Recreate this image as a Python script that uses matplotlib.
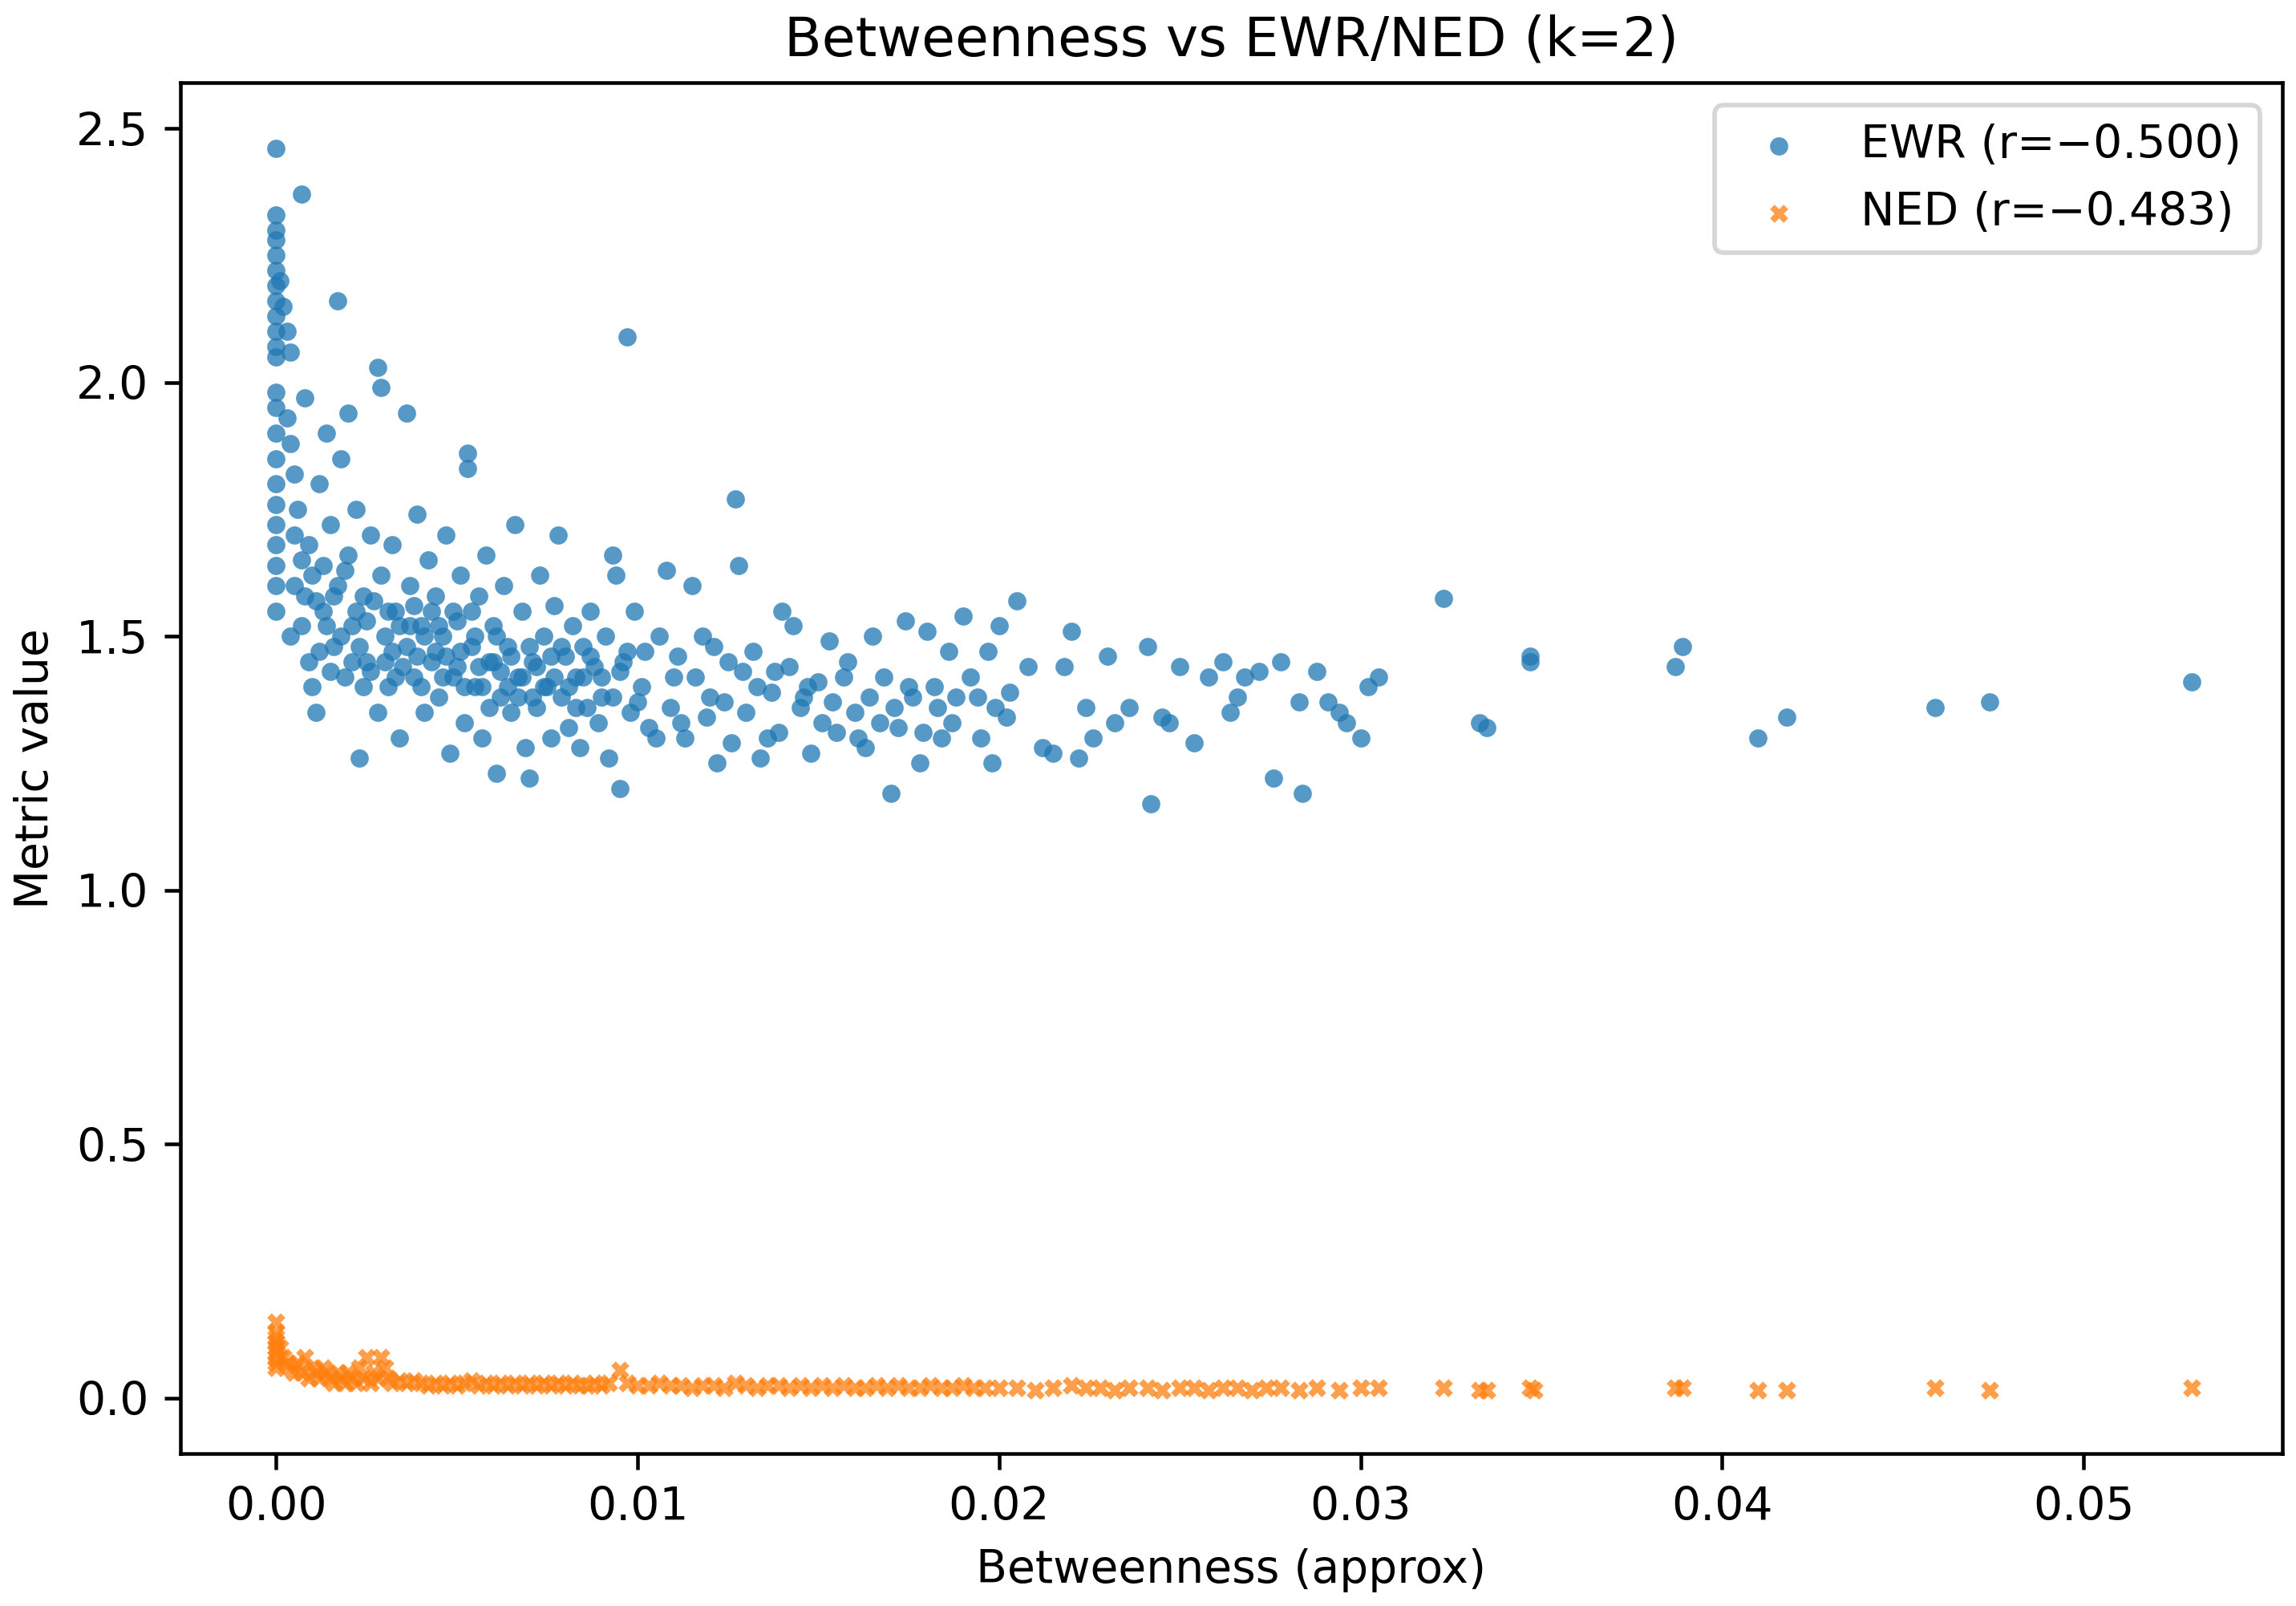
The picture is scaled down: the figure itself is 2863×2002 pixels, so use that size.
import matplotlib
matplotlib.use("Agg")
import matplotlib.pyplot as plt

# EWR points (betweenness, value)
ewr_points = [
    (0, 2.46), (0, 2.33), (0, 2.30), (0, 2.28), (0, 2.25), (0, 2.22), (0, 2.19), (0, 2.16), (0, 2.13),
    (0, 2.10), (0, 2.07), (0, 2.05), (0, 1.98), (0, 1.95), (0, 1.90), (0, 1.85), (0, 1.80), (0, 1.76),
    (0, 1.72), (0, 1.68), (0, 1.64), (0, 1.60), (0, 1.55), (0.0001, 2.20), (0.0002, 2.15), (0.0003, 2.10),
    (0.0004, 2.06), (0.0003, 1.93), (0.0004, 1.88), (0.0005, 1.82), (0.0006, 1.75), (0.0007, 2.37),
    (0.0005, 1.70), (0.0004, 1.50), (0.0007, 1.65), (0.0008, 1.58), (0.0008, 1.97), (0.0009, 1.45),
    (0.0010, 1.40), (0.0010, 1.62), (0.0011, 1.35), (0.0012, 1.80), (0.0013, 1.55), (0.0014, 1.90),
    (0.0015, 1.72), (0.0016, 1.48), (0.0017, 1.60), (0.0017, 2.16), (0.0018, 1.85), (0.0019, 1.42),
    (0.0020, 1.66), (0.0020, 1.94), (0.0021, 1.52), (0.0022, 1.75), (0.0023, 1.26), (0.0024, 1.58),
    (0.0025, 1.45), (0.0026, 1.70), (0.0028, 2.03), (0.0029, 1.99), (0.0028, 1.35), (0.0029, 1.62),
    (0.0030, 1.50), (0.0031, 1.40), (0.0032, 1.68), (0.0033, 1.55), (0.0034, 1.30), (0.0036, 1.94),
    (0.0036, 1.48), (0.0037, 1.60), (0.0038, 1.42), (0.0039, 1.74), (0.0040, 1.52), (0.0041, 1.35),
    (0.0042, 1.65), (0.0043, 1.45), (0.0044, 1.58), (0.0045, 1.38), (0.0046, 1.50), (0.0047, 1.70),
    (0.0048, 1.27), (0.0049, 1.55), (0.0050, 1.44), (0.0051, 1.62), (0.0052, 1.33), (0.0053, 1.86),
    (0.0053, 1.83), (0.0054, 1.48), (0.0055, 1.40), (0.0056, 1.58), (0.0057, 1.30), (0.0058, 1.66),
    (0.0059, 1.45), (0.0060, 1.52), (0.0061, 1.23), (0.0062, 1.38), (0.0063, 1.60), (0.0064, 1.48),
    (0.0065, 1.35), (0.0066, 1.72), (0.0067, 1.42), (0.0068, 1.55), (0.0069, 1.28), (0.0070, 1.22),
    (0.0071, 1.45), (0.0072, 1.36), (0.0073, 1.62), (0.0074, 1.50), (0.0075, 1.40), (0.0076, 1.30),
    (0.0077, 1.56), (0.0078, 1.70), (0.0079, 1.38), (0.0080, 1.46), (0.0081, 1.32), (0.0082, 1.52),
    (0.0083, 1.42), (0.0084, 1.28), (0.0085, 1.48), (0.0086, 1.36), (0.0087, 1.55), (0.0088, 1.44),
    (0.0089, 1.33), (0.0091, 1.50), (0.0092, 1.26), (0.0094, 1.62), (0.0096, 1.45), (0.0098, 1.35),
    (0.0099, 1.55), (0.0101, 1.40), (0.0103, 1.32), (0.0106, 1.50), (0.0109, 1.36), (0.0111, 1.46),
    (0.0113, 1.30), (0.0116, 1.42), (0.0119, 1.34), (0.0121, 1.48), (0.0124, 1.37), (0.0126, 1.29),
    (0.0129, 1.43), (0.0132, 1.47), (0.0134, 1.26), (0.0137, 1.39), (0.0139, 1.31), (0.0142, 1.44),
    (0.0145, 1.36), (0.0147, 1.40), (0.0151, 1.33), (0.0154, 1.37), (0.0157, 1.42), (0.0161, 1.30),
    (0.0164, 1.38), (0.0167, 1.33), (0.0171, 1.36), (0.0175, 1.40), (0.0179, 1.31), (0.0183, 1.36),
    (0.0187, 1.33), (0.0194, 1.38), (0.0198, 1.25), (0.0202, 1.34),
    (0.0005, 1.60), (0.0007, 1.52), (0.0009, 1.68), (0.0011, 1.57), (0.0012, 1.47), (0.0013, 1.64),
    (0.0014, 1.52), (0.0015, 1.43), (0.0016, 1.58), (0.0018, 1.50), (0.0019, 1.63), (0.0021, 1.45),
    (0.0022, 1.55), (0.0023, 1.48), (0.0024, 1.40), (0.0025, 1.53), (0.0026, 1.43), (0.0027, 1.57),
    (0.0030, 1.45), (0.0031, 1.55), (0.0032, 1.47), (0.0033, 1.42), (0.0034, 1.52), (0.0035, 1.44),
    (0.0037, 1.52), (0.0038, 1.56), (0.0039, 1.46), (0.0040, 1.40), (0.0041, 1.50), (0.0043, 1.55),
    (0.0044, 1.47), (0.0045, 1.52), (0.0046, 1.42), (0.0047, 1.46), (0.0049, 1.42), (0.0050, 1.53),
    (0.0051, 1.47), (0.0052, 1.40), (0.0054, 1.55), (0.0055, 1.50), (0.0056, 1.44), (0.0057, 1.40),
    (0.0059, 1.36), (0.0060, 1.45), (0.0061, 1.50), (0.0062, 1.43), (0.0064, 1.40), (0.0065, 1.46),
    (0.0067, 1.38), (0.0068, 1.42), (0.0070, 1.48), (0.0071, 1.38), (0.0072, 1.44), (0.0074, 1.40),
    (0.0076, 1.46), (0.0077, 1.42), (0.0079, 1.48), (0.0081, 1.40), (0.0083, 1.36), (0.0085, 1.42),
    (0.0087, 1.46), (0.0090, 1.42), (0.0093, 1.38), (0.0095, 1.43), (0.0097, 1.47), (0.0100, 1.37),
    (0.0090, 1.38), (0.0097, 2.09), (0.0095, 1.20), (0.0093, 1.66), (0.0102, 1.47), (0.0105, 1.30),
    (0.0108, 1.63), (0.0110, 1.42), (0.0112, 1.33), (0.0115, 1.60), (0.0118, 1.50), (0.0120, 1.38),
    (0.0122, 1.25), (0.0125, 1.45), (0.0127, 1.77), (0.0128, 1.64), (0.0130, 1.35), (0.0133, 1.40),
    (0.0136, 1.30), (0.0138, 1.43), (0.0140, 1.55), (0.0143, 1.52), (0.0146, 1.38), (0.0148, 1.27),
    (0.0150, 1.41), (0.0153, 1.49), (0.0155, 1.31), (0.0158, 1.45), (0.0160, 1.35), (0.0163, 1.28),
    (0.0165, 1.50), (0.0168, 1.42), (0.0170, 1.19), (0.0172, 1.32), (0.0174, 1.53), (0.0176, 1.38),
    (0.0178, 1.25), (0.0180, 1.51), (0.0182, 1.40), (0.0184, 1.30), (0.0186, 1.47), (0.0188, 1.38),
    (0.0190, 1.54), (0.0192, 1.42), (0.0195, 1.30), (0.0197, 1.47), (0.0199, 1.36), (0.0200, 1.52),
    (0.0203, 1.39), (0.0205, 1.57), (0.0208, 1.44), (0.0212, 1.28), (0.0215, 1.27), (0.0218, 1.44),
    (0.0220, 1.51), (0.0222, 1.26), (0.0224, 1.36), (0.0226, 1.30), (0.0230, 1.46), (0.0232, 1.33),
    (0.0236, 1.36), (0.0241, 1.48), (0.0242, 1.17), (0.0245, 1.34), (0.0247, 1.33), (0.0250, 1.44),
    (0.0254, 1.29), (0.0258, 1.42), (0.0262, 1.45), (0.0264, 1.35), (0.0266, 1.38), (0.0268, 1.42),
    (0.0272, 1.43), (0.0276, 1.22), (0.0278, 1.45), (0.0283, 1.37), (0.0284, 1.19), (0.0288, 1.43),
    (0.0291, 1.37), (0.0294, 1.35), (0.0296, 1.33), (0.0300, 1.30), (0.0302, 1.40), (0.0305, 1.42),
    (0.0323, 1.575), (0.0333, 1.33), (0.0335, 1.32), (0.0347, 1.46), (0.0347, 1.45), (0.0387, 1.44),
    (0.0389, 1.48), (0.0410, 1.30), (0.0418, 1.34), (0.0459, 1.36), (0.0474, 1.37), (0.0530, 1.41),
]
ewr_x = [p[0] for p in ewr_points]
ewr_y = [p[1] for p in ewr_points]

# NED points
ned_points = [
    (0, 0.15), (0, 0.13), (0, 0.12), (0, 0.11), (0, 0.10), (0, 0.09), (0, 0.08), (0, 0.07), (0, 0.06),
    (0.0001, 0.10), (0.0002, 0.08), (0.0003, 0.07), (0.0004, 0.06), (0.0005, 0.05), (0.0006, 0.07),
    (0.0007, 0.05), (0.0008, 0.08), (0.0009, 0.04), (0.0010, 0.06), (0.0011, 0.05), (0.0012, 0.04),
    (0.0013, 0.06), (0.0014, 0.05), (0.0015, 0.04), (0.0016, 0.03), (0.0017, 0.05), (0.0018, 0.04),
    (0.0019, 0.03), (0.0020, 0.05), (0.0021, 0.04), (0.0022, 0.03), (0.0023, 0.06), (0.0024, 0.04),
    (0.0025, 0.08), (0.0026, 0.03), (0.0027, 0.05), (0.0028, 0.04), (0.0029, 0.08), (0.0030, 0.06),
    (0.0031, 0.04), (0.0032, 0.03), (0.0034, 0.035), (0.0036, 0.03), (0.0038, 0.035), (0.0040, 0.03),
    (0.0042, 0.025), (0.0044, 0.03), (0.0046, 0.025), (0.0048, 0.03), (0.0050, 0.025), (0.0052, 0.03),
    (0.0054, 0.035), (0.0056, 0.025), (0.0058, 0.03), (0.0060, 0.025), (0.0062, 0.03), (0.0064, 0.025),
    (0.0066, 0.03), (0.0068, 0.025), (0.0070, 0.03), (0.0072, 0.025), (0.0074, 0.03), (0.0076, 0.025),
    (0.0078, 0.03), (0.0080, 0.025), (0.0082, 0.03), (0.0084, 0.025), (0.0086, 0.025), (0.0088, 0.03),
    (0.0090, 0.025), (0.0092, 0.03), (0.0095, 0.055), (0.0097, 0.03), (0.0100, 0.025), (0.0103, 0.025),
    (0.0106, 0.03), (0.0109, 0.025), (0.0112, 0.025), (0.0115, 0.02), (0.0118, 0.025), (0.0121, 0.025),
    (0.0124, 0.02), (0.0127, 0.03), (0.0130, 0.025), (0.0133, 0.02), (0.0136, 0.025), (0.0139, 0.025),
    (0.0142, 0.02), (0.0145, 0.025), (0.0148, 0.02), (0.0151, 0.025), (0.0154, 0.02), (0.0157, 0.025),
    (0.0160, 0.02), (0.0163, 0.02), (0.0166, 0.025), (0.0169, 0.02), (0.0172, 0.025), (0.0175, 0.02),
    (0.0178, 0.02), (0.0181, 0.025), (0.0184, 0.02), (0.0187, 0.02), (0.0190, 0.025), (0.0193, 0.02),
    (0.0196, 0.02), (0.0200, 0.02), (0.0205, 0.02), (0.0210, 0.015), (0.0215, 0.02), (0.0220, 0.025),
    (0.0224, 0.02), (0.0228, 0.02), (0.0232, 0.015), (0.0236, 0.02), (0.0241, 0.02), (0.0245, 0.015),
    (0.0250, 0.02), (0.0254, 0.02), (0.0258, 0.015), (0.0262, 0.02), (0.0266, 0.02), (0.0270, 0.015),
    (0.0274, 0.02), (0.0278, 0.02), (0.0283, 0.015), (0.0288, 0.02), (0.0294, 0.015), (0.0300, 0.02),
    (0.0305, 0.02), (0.0323, 0.02), (0.0333, 0.015), (0.0335, 0.015), (0.0347, 0.02), (0.0348, 0.015),
    (0.0387, 0.02), (0.0389, 0.02), (0.0410, 0.015), (0.0418, 0.015), (0.0459, 0.02), (0.0474, 0.015),
    (0.0530, 0.02),
]
ned_x = [p[0] for p in ned_points]
ned_y = [p[1] for p in ned_points]

ewr_label = "EWR (r=\u22120.500)"
ned_label = "NED (r=\u22120.483)"

fig, ax = plt.subplots(figsize=(7, 4.895), dpi=409)
ax.scatter(ewr_x, ewr_y, s=16, alpha=0.75, color="#1f77b4", marker="o", label=ewr_label, linewidths=0)
ax.scatter(ned_x, ned_y, s=16, alpha=0.75, color="#ff7f0e", marker="X", label=ned_label, linewidths=0)
ax.set_title("Betweenness vs EWR/NED (k=2)")
ax.set_xlabel("Betweenness (approx)")
ax.set_ylabel("Metric value")
ax.set_xlim(-0.00265, 0.0555)
ax.set_ylim(-0.11, 2.59)
ax.legend(loc="upper right")
fig.tight_layout(pad=0.3)
fig.savefig("out.png")
